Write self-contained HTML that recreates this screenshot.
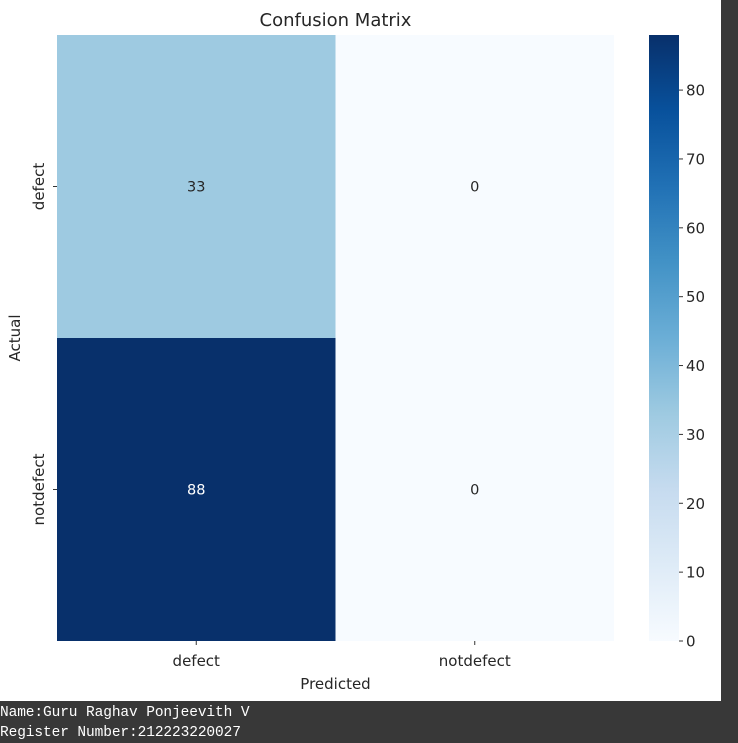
<!DOCTYPE html>
<html><head><meta charset="utf-8"><style>
body{margin:0;width:738px;height:741px;background:#383838;overflow:hidden;font-family:"DejaVu Sans","Liberation Sans",sans-serif}
#plot{position:absolute;left:0;top:0;width:721px;height:701px;background:#fff}
#footer{position:absolute;left:0;top:703px;color:#fff;font-family:"Liberation Mono",monospace;font-size:14.5px;line-height:20px;letter-spacing:-0.1px}
</style></head><body>
<div id="plot">
<svg id="svg" width="721" height="701"></svg>
</div>
<div id="footer">
<div>Name:Guru Raghav Ponjeevith V</div>
<div>Register Number:212223220027</div>
</div>
<script>
const rowLabels=["defect","notdefect"];
const colLabels=["defect","notdefect"];
const values=[[33,0],[88,0]];
const cbTicks=[0,10,20,30,40,50,60,70,80];
const NS="http://www.w3.org/2000/svg";
const svg=document.getElementById("svg");
const X0=57,X1=614,Y0=35,Y1=641,CBX=649,CBW=30;
const vmax=Math.max(...values.flat()),vmin=Math.min(...values.flat());
const stops=["#f7fbff","#deebf7","#c6dbef","#9ecae1","#6baed6","#4292c6","#2171b5","#08519c","#08306b"];
function hex(h){return [1,3,5].map(i=>parseInt(h.substr(i,2),16));}
function cmap(v){let t=(v-vmin)/(vmax-vmin);t=Math.max(0,Math.min(1,t));const p=t*8,i=Math.min(7,Math.floor(p)),f=p-i;const a=hex(stops[i]),b=hex(stops[i+1]);return "rgb("+a.map((c,k)=>Math.round(c+(b[k]-c)*f)).join(",")+")";}
function el(tag,attrs,text){const e=document.createElementNS(NS,tag);for(const k in attrs)e.setAttribute(k,attrs[k]);if(text!==undefined)e.textContent=text;svg.appendChild(e);return e;}
const cw=(X1-X0)/colLabels.length,ch=(Y1-Y0)/rowLabels.length;
function xPos(j){return X0+j*cw;}
function yPos(i){return Y0+i*ch;}
values.forEach((row,i)=>row.forEach((v,j)=>{
 const r=el("rect",{x:xPos(j),y:yPos(i),width:cw,height:ch,fill:cmap(v)});
 
 
 const t=el("text",{x:xPos(j)+cw/2,y:yPos(i)+ch/2+5,"text-anchor":"middle","font-size":"14.5",fill:(v-vmin)/(vmax-vmin)>0.6?"#fff":"#262626"},String(v));
 
 
}));
colLabels.forEach((l,j)=>{
 const cx=xPos(j)+cw/2;
 el("line",{x1:cx,x2:cx,y1:Y1,y2:Y1+4,stroke:"#333"});
 const t=el("text",{x:cx,y:Y1+25,"text-anchor":"middle","font-size":"15",fill:"#262626"},l);
 
 
});
rowLabels.forEach((l,i)=>{
 const cy=yPos(i)+ch/2;
 el("line",{x1:X0-4,x2:X0,y1:cy,y2:cy,stroke:"#333"});
 const t=el("text",{x:0,y:0,transform:"translate(44,"+cy+") rotate(-90)","text-anchor":"middle","font-size":"15",fill:"#262626"},l);
 
 
});
const xt=el("text",{x:(X0+X1)/2,y:689,"text-anchor":"middle","font-size":"15",fill:"#262626"},"Predicted");

const yt=el("text",{x:0,y:0,transform:"translate(20,"+(Y0+Y1)/2+") rotate(-90)","text-anchor":"middle","font-size":"15",fill:"#262626"},"Actual");

const tt=el("text",{x:(X0+X1)/2,y:26,"text-anchor":"middle","font-size":"18",fill:"#262626"},"Confusion Matrix");

const defs=el("defs",{});
const g=document.createElementNS(NS,"linearGradient");g.setAttribute("id","cb");g.setAttribute("x1","0");g.setAttribute("y1","1");g.setAttribute("x2","0");g.setAttribute("y2","0");
stops.forEach((s,i)=>{const st=document.createElementNS(NS,"stop");st.setAttribute("offset",i/8);st.setAttribute("stop-color",s);g.appendChild(st);});
defs.appendChild(g);
const cb=el("rect",{x:CBX,y:Y0,width:CBW,height:Y1-Y0,fill:"url(#cb)"});

function cbY(v){return Y1-(v-vmin)/(vmax-vmin)*(Y1-Y0);}
cbTicks.forEach(v=>{
 const y=cbY(v);
 el("line",{x1:CBX+CBW,x2:CBX+CBW+4,y1:y,y2:y,stroke:"#333"});
 const t=el("text",{x:CBX+CBW+7,y:y+5.5,"font-size":"15",fill:"#262626"},String(v));
 
 
});
</script>
</body></html>
